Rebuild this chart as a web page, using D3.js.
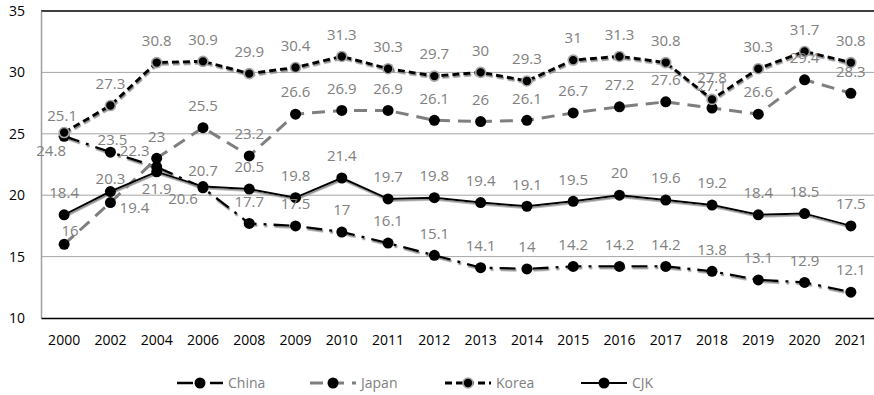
<!DOCTYPE html>
<html>
<head>
<meta charset="utf-8">
<script src="https://cdn.jsdelivr.net/npm/d3@7"></script>
<style>
  html, body { margin: 0; padding: 0; background: #fff; }
  svg { display: block; font-family: "Open Sans", "Noto Sans", sans-serif; }
</style>
</head>
<body>
<svg id="chart" width="874" height="395"></svg>
<script>
// ---- data ----
const years = ["2000","2002","2004","2006","2008","2009","2010","2011","2012",
               "2013","2014","2015","2016","2017","2018","2019","2020","2021"];
const china = [24.8, 23.5, 22.3, 20.6, 17.7, 17.5, 17, 16.1, 15.1, 14.1, 14, 14.2, 14.2, 14.2, 13.8, 13.1, 12.9, 12.1];
const japan = [16, 19.4, 23, 25.5, 23.2, 26.6, 26.9, 26.9, 26.1, 26, 26.1, 26.7, 27.2, 27.6, 27.1, 26.6, 29.4, 28.3];
const korea = [25.1, 27.3, 30.8, 30.9, 29.9, 30.4, 31.3, 30.3, 29.7, 30, 29.3, 31, 31.3, 30.8, 27.8, 30.3, 31.7, 30.8];
const cjk   = [18.4, 20.3, 21.9, 20.7, 20.5, 19.8, 21.4, 19.7, 19.8, 19.4, 19.1, 19.5, 20, 19.6, 19.2, 18.4, 18.5, 17.5];
const yTicks = [10, 15, 20, 25, 30, 35];

// ---- series styling ----
const series = [
  { name: "China", values: china, stroke: "#000", width: 2.4, dash: "16 7 3 7", shadow: true,  marker: "#000", ring: null },
  { name: "Japan", values: japan, stroke: "#7f7f7f", width: 3, dash: "13 8",   shadow: false, marker: "#000", ring: null },
  { name: "Korea", values: korea, stroke: "#000", width: 3,   dash: "7 4",     shadow: true,  marker: "#000", ring: "#a6a6a6" },
  { name: "CJK",   values: cjk,   stroke: "#000", width: 2,   dash: null,      shadow: true,  marker: "#000", ring: null }
];

// label nudges (dx, dy from the point); default sits above the marker
const labelNudge = {
  China: { 0: [-13, 14], 1: [2, -12], 2: [-22, -16], 3: [-20, 11] },
  Japan: { 0: [6, -14], 1: [24, 5] },
  Korea: { 0: [-2, -17] },
  CJK:   { 1: [0, -13], 2: [0, 17], 3: [0, -16] }
};

const svg = d3.select("#chart");
const plotLeft = 41, plotRight = 874, plotTop = 11, plotBottom = 318;

const x = d3.scaleBand().domain(years).range([plotLeft, plotRight]);
const cx = d => x(d) + x.bandwidth() / 2;
const y = d3.scaleLinear().domain([10, 35]).range([plotBottom, plotTop]);

const defs = svg.append("defs");
const f = defs.append("filter").attr("id", "shade")
  .attr("x", "-5%").attr("y", "-20%").attr("width", "110%").attr("height", "140%");
f.append("feDropShadow").attr("dx", 0.8).attr("dy", 1.6).attr("stdDeviation", 0.5)
  .attr("flood-color", "#8c8c8c").attr("flood-opacity", 1);

// gridlines
svg.append("g").selectAll("line").data(yTicks.filter(t => t > 10 && t < 35)).join("line")
  .attr("x1", plotLeft).attr("x2", plotRight)
  .attr("y1", d => y(d)).attr("y2", d => y(d))
  .attr("stroke", "#a6a6a6").attr("stroke-width", 1);

// top frame line
svg.append("line").attr("x1", plotLeft).attr("x2", plotRight).attr("y1", y(35)).attr("y2", y(35))
  .attr("stroke", "#404040").attr("stroke-width", 1.8);

// y axis
const gy = svg.append("g").attr("transform", `translate(${plotLeft},0)`)
  .call(d3.axisLeft(y).tickValues(yTicks).tickSize(0).tickPadding(16));
gy.select(".domain").attr("stroke", "#a0a0a0").attr("stroke-width", 1.5);
gy.selectAll("text").attr("font-size", 14).attr("fill", "#000")
  .attr("font-family", "'Open Sans', sans-serif");

// x axis
const gx = svg.append("g").attr("transform", `translate(0,${plotBottom})`)
  .call(d3.axisBottom(x).tickSize(0).tickPadding(17));
gx.select(".domain").attr("stroke", "#000").attr("stroke-width", 1.6);
gx.selectAll("text").attr("font-size", 14).attr("fill", "#000")
  .attr("font-family", "'Open Sans', sans-serif");

// lines and markers
const line = d3.line().x((d, i) => cx(years[i])).y(d => y(d));
series.forEach(s => {
  const g = svg.append("g").attr("class", "series");
  g.append("path").datum(s.values).attr("d", line)
    .attr("fill", "none").attr("stroke", s.stroke).attr("stroke-width", s.width)
    .attr("stroke-dasharray", s.dash).attr("stroke-linejoin", "round")
    .attr("filter", s.shadow ? "url(#shade)" : null);
  g.selectAll("circle").data(s.values).join("circle")
    .attr("cx", (d, i) => cx(years[i])).attr("cy", d => y(d))
    .attr("r", s.ring ? 5 : 5.5).attr("fill", s.marker)
    .attr("stroke", s.ring || "none").attr("stroke-width", s.ring ? 1.6 : 0);
});

// value labels
series.forEach(s => {
  const nudges = labelNudge[s.name] || {};
  svg.append("g").selectAll("text").data(s.values).join("text")
    .attr("x", (d, i) => cx(years[i]) + (nudges[i] ? nudges[i][0] : 0))
    .attr("y", (d, i) => y(d) + (nudges[i] ? nudges[i][1] : -22))
    .attr("dy", "0.35em").attr("text-anchor", "middle")
    .attr("font-size", 15).attr("fill", "#808080")
    .text(d => d);
});

// legend
const legendX = [177, 310, 445, 581];
const legY = 383;
series.forEach((s, i) => {
  const g = svg.append("g").attr("transform", `translate(${legendX[i]},${legY})`);
  g.append("line").attr("x1", 0).attr("x2", 46).attr("y1", 0).attr("y2", 0)
    .attr("stroke", s.stroke).attr("stroke-width", s.width).attr("stroke-dasharray", s.dash);
  g.append("circle").attr("cx", 23).attr("cy", 0).attr("r", s.ring ? 5 : 5.5)
    .attr("fill", s.marker).attr("stroke", s.ring || "none").attr("stroke-width", s.ring ? 1.6 : 0);
  g.append("text").attr("x", 51).attr("y", 0).attr("dy", "0.35em")
    .attr("font-size", 14).attr("fill", "#808080").text(s.name);
});
</script>
</body>
</html>
